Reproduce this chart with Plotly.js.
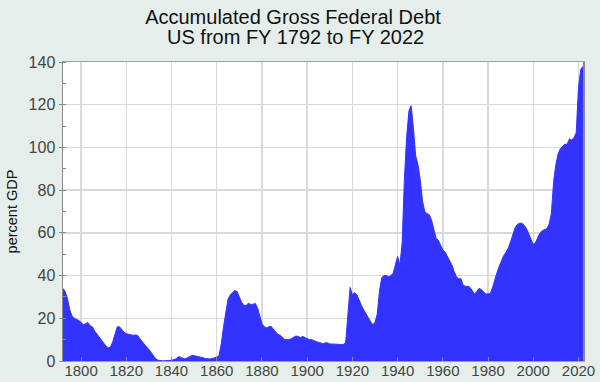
<!DOCTYPE html>
<html>
<head>
<meta charset="utf-8">
<script src="https://cdn.plot.ly/plotly-3.0.1.min.js"></script>
<style>html,body{margin:0;padding:0;background:#e6eeec;}#chart{width:600px;height:382px;}</style>
</head>
<body>
<div id="chart"></div>
<script>
const titleLine1 = 'Accumulated Gross Federal Debt';
const titleLine2 = 'US from FY 1792 to FY 2022';
const yAxisTitle = 'percent GDP';
const startYear = 1792;
const debtPctGDP = [
  // 1792-1799
  34, 32.5, 29, 24, 21, 20, 19.5, 19,
  // 1800-1809
  18, 17, 17.5, 18, 16.5, 16, 14, 12.5, 11, 9.5,
  // 1810-1819
  8, 7, 6.2, 6.5, 9, 13, 16, 16, 14.5, 13.5,
  // 1820-1829
  12.8, 12.5, 12, 12, 12.2, 12, 10.5, 9, 8, 6.5,
  // 1830-1839
  5.5, 4, 2.5, 1, 0.4, 0.1, 0.1, 0.1, 0.3, 0.3,
  // 1840-1849
  0.3, 0.5, 1, 2, 1.8, 1.2, 1, 1.5, 2.2, 2.6,
  // 1850-1859
  2.5, 2.3, 2.2, 2, 1.5, 1.2, 1, 0.9, 1.2, 1.5,
  // 1860-1869
  1.8, 2.5, 8, 16, 22, 29, 31, 32, 33, 32.5,
  // 1870-1879
  30, 27.5, 26, 26, 27, 26.5, 26.5, 27, 25, 21,
  // 1880-1889
  17.5, 16, 15.5, 16, 16.3, 15, 13.5, 12.5, 12, 11,
  // 1890-1899
  10.2, 10, 10, 10.5, 11, 11.7, 11.5, 11, 11.5, 11,
  // 1900-1909
  10.3, 10, 10, 9.5, 9, 8.7, 8.5, 8, 8.5, 8.5,
  // 1910-1919
  8, 8, 8, 8, 7.8, 7.6, 7.8, 8.5, 20, 34.5,
  // 1920-1929
  31, 32, 31, 28, 26, 24, 22, 20, 18.5, 17,
  // 1930-1939
  18, 22, 33, 39, 40, 40, 39.5, 40, 41, 45,
  // 1940-1949
  49, 45, 55, 85, 105, 117, 119.5, 109, 96, 92,
  // 1950-1959
  85, 75, 70, 69, 68.5, 66, 61, 57.5, 56.5, 54,
  // 1960-1969
  52, 51, 49, 47, 45, 42, 39.5, 38.5, 38.5, 35.5,
  // 1970-1979
  35, 35, 34.5, 33, 31.3, 32.5, 34, 33.5, 32.5, 31.3,
  // 1980-1989
  31.5, 31.5, 34.5, 38.5, 41.5, 44.5, 47.5, 49.5, 51, 53,
  // 1990-1999
  56, 59, 62.5, 64, 64.5, 64.5, 63.5, 62, 59.5, 57,
  // 2000-2009
  54.5, 55.5, 58, 60, 61, 61.5, 62, 64, 69, 84,
  // 2010-2019
  92, 97, 99.5, 100.5, 101.5, 101.5, 104, 103.5, 104.5, 107,
  // 2020-2022
  128, 136.5, 138
];
const years = debtPctGDP.map((_, i) => startYear + i);
const xTickVals = [1800, 1820, 1840, 1860, 1880, 1900, 1920, 1940, 1960, 1980, 2000, 2020];
const yTickVals = [0, 20, 40, 60, 80, 100, 120, 140];

const FONT = 'Liberation Sans, Arial, sans-serif';

const trace = {
  x: years,
  y: debtPctGDP,
  type: 'scatter',
  mode: 'lines',
  fill: 'tozeroy',
  fillcolor: 'rgb(51,51,255)',
  line: {color: 'rgb(51,51,255)', width: 1, shape: 'linear'},
  hoverinfo: 'x+y'
};

const layout = {
  width: 600,
  height: 382,
  paper_bgcolor: '#e6eeec',
  plot_bgcolor: '#ffffff',
  margin: {l: 63, r: 17, t: 62, b: 21},
  showlegend: false,
  title: {
    text: titleLine1,
    font: {family: FONT, size: 20, color: '#111'},
    x: 293 / 600, xref: 'container', xanchor: 'center',
    y: 1 - 17 / 382, yref: 'container', yanchor: 'middle'
  },
  annotations: [{
    text: titleLine2,
    font: {family: FONT, size: 20, color: '#111'},
    xref: 'paper', yref: 'paper',
    x: (295.5 - 63) / 520, xanchor: 'center',
    y: 1 + (62 - 37) / 299, yanchor: 'middle',
    showarrow: false
  }],
  xaxis: {
    range: [1792, 2022],
    tickvals: xTickVals,
    ticktext: xTickVals.map(String),
    ticks: 'inside',
    ticklen: 4,
    tickcolor: '#888',
    ticklabelstandoff: -4,
    showgrid: true,
    gridcolor: '#d9d9d9',
    gridwidth: 1.5,
    showline: true,
    linecolor: '#a0a0a0',
    linewidth: 1,
    mirror: true,
    zeroline: false,
    tickfont: {family: FONT, size: 15, color: '#444'}
  },
  yaxis: {
    range: [0, 140],
    tickvals: yTickVals,
    ticks: 'outside',
    ticklen: 3,
    tickcolor: '#888',
    minor: {dtick: 10, ticks: 'inside', ticklen: 3, tickcolor: '#888', showgrid: false},
    showgrid: true,
    gridcolor: '#d9d9d9',
    gridwidth: 1.5,
    showline: true,
    linecolor: '#888',
    linewidth: 1.5,
    mirror: true,
    zeroline: false,
    tickfont: {family: FONT, size: 16, color: '#444'},
    title: {
      text: yAxisTitle,
      font: {family: FONT, size: 14.5, color: '#111'},
      standoff: 7
    }
  }
};

Plotly.newPlot('chart', [trace], layout, {displayModeBar: false, staticPlot: true});
</script>
</body>
</html>
